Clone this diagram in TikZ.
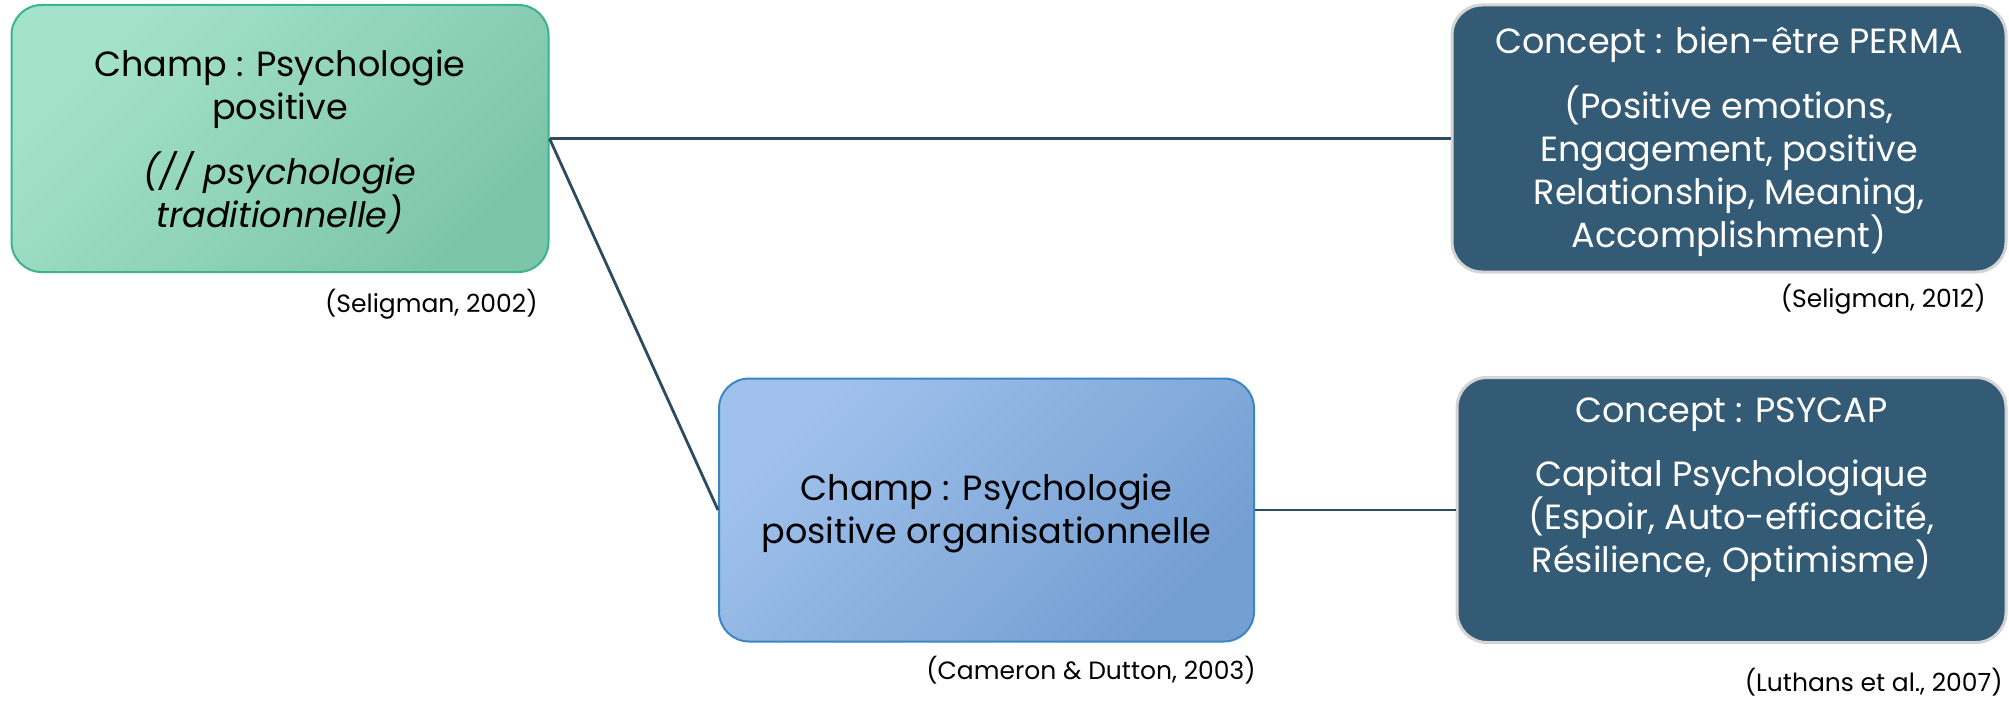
\documentclass[tikz,border=0pt]{standalone}
\usepackage{fontspec}
\setmainfont{Poppins}
\definecolor{greentop}{HTML}{A4E3CB}
\definecolor{greenbottom}{HTML}{7DC5AA}
\definecolor{greenline}{HTML}{3BB48C}
\definecolor{bluetop}{HTML}{A0C1EC}
\definecolor{bluebottom}{HTML}{749FD2}
\definecolor{blueline}{HTML}{3A86C8}
\definecolor{conceptfill}{HTML}{345B75}
\definecolor{conceptline}{HTML}{D4D4D4}
\definecolor{linkcol}{HTML}{2C4A60}
\tikzset{every picture/.style={x=0.5pt,y=-0.5pt},
 champgreen/.style={draw=greenline,line width=1pt,rounded corners=15pt,
  top color=greentop,bottom color=greenbottom,shading angle=45},
 champblue/.style={draw=blueline,line width=1pt,rounded corners=15pt,
  top color=bluetop,bottom color=bluebottom,shading angle=45},
 conceptbox/.style={draw=conceptline,line width=1.5pt,rounded corners=15pt,
  fill=conceptfill},
 boxtext/.style={align=center,font=\fontsize{17.5}{21.5}\selectfont,inner sep=0pt},
 cite/.style={font=\fontsize{12.5}{14}\selectfont,inner sep=0pt,anchor=east},
 link/.style={draw=linkcol,line width=1.4pt},
 }

\begin{document}
\begin{tikzpicture}
    \useasboundingbox (0,0) rectangle (2009,701);
    % boxes
    \node[champgreen,minimum width=268.5pt,minimum height=133.5pt] (psypos) at (280,138.5) {};
    \node[conceptbox,minimum width=277pt,minimum height=133.5pt] (perma) at (1729,138.5) {};
    \node[champblue,minimum width=267.5pt,minimum height=131.5pt] (psyorg) at (986.5,510) {};
    \node[conceptbox,minimum width=274.5pt,minimum height=132.5pt] (psycap) at (1731.5,510) {};
    % links
    \draw[link] (psypos.east) -- (perma.west);
    \draw[link] (psypos.east) -- (psyorg.west);
    \draw[link] (psyorg.east) -- (psycap.west);
    % texts
    \node[boxtext] (psypostxt) at ([yshift=-1.5pt]psypos.center) {Champ : Psychologie\\positive\\[11pt]
        \textit{(// psychologie}\\\textit{traditionnelle)}};
    \node[boxtext,text=white] (permatxt) at ([yshift=-1.5pt]perma.center) {Concept : bien-être PERMA\\[11pt]
        (Positive emotions,\\Engagement, positive\\Relationship, Meaning,\\Accomplishment)};
    \node[boxtext] (psyorgtxt) at ([yshift=-1.5pt]psyorg.center) {Champ : Psychologie\\positive organisationnelle};
    \node[boxtext,text=white] (psycaptxt) at ([yshift=10pt]psycap.center) {Concept : PSYCAP\\[10.5pt]
        Capital Psychologique\\(Espoir, Auto-efficacité,\\Résilience, Optimisme)};
    % references
    \node[cite] (selig02) at (538,304) {(Seligman, 2002)};
    \node[cite] (selig12) at (1986,299) {(Seligman, 2012)};
    \node[cite] (cameron) at (1256,670) {(Cameron \& Dutton, 2003)};
    \node[cite] (luthans) at (2003,682) {(Luthans et al., 2007)};
\end{tikzpicture}
\end{document}
